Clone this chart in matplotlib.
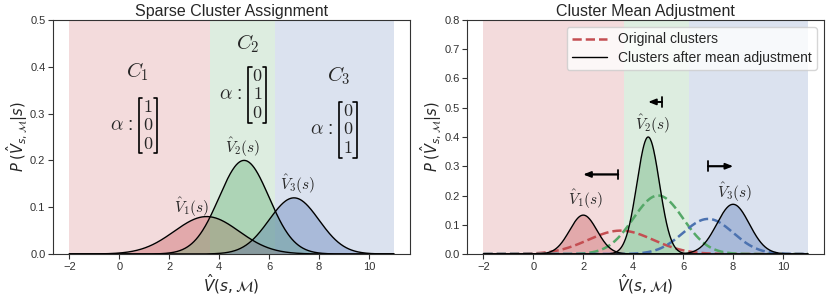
import numpy as np
import matplotlib.pyplot as plt
import seaborn as sns

sns.set_style("ticks")
plt.rcParams['font.family'] = ['Liberation Sans', 'DejaVu Sans']
plt.rcParams['axes.edgecolor'] = '#333333'
plt.rcParams['xtick.color'] = '#333333'
plt.rcParams['ytick.color'] = '#333333'

# cluster colours and boundaries
colores = ["#C44E52", "#55A868", "#4C72B0"]
limites = [-2.0, 3.65, 6.25, 11.0]

# original clusters: mean, std, peak height
medias = [3.5, 5.0, 7.0]
desvios = [1.3, 1.0, 1.0]
picos = [0.08, 0.20, 0.12]

# clusters after mean adjustment
medias_aj = [2.0, 4.6, 8.0]
desvios_aj = [0.55, 0.45, 0.65]
picos_aj = [0.133, 0.40, 0.17]

# start of the shift arrows and their heights
inicio_seta = [3.4, 5.15, 7.0]
alturas_seta = [0.272, 0.52, 0.30]

# vectors alpha for each cluster
alfas = [["1", "0", "0"], ["0", "1", "0"], ["0", "0", "1"]]

x = np.linspace(-2, 11, 600)


def curva(m, s, p):
    return p * np.exp(-0.5 * ((x - m) / s) ** 2)


def vetor(ax, xc, yc, digitos, h):
    # alpha : [ ... ] column vector
    ax.text(xc - 1.05, yc, r"$\alpha$ :", math_fontfamily="cm", fontsize=14,
            ha="center", va="center")
    passo = h / 3.0
    for i, d in enumerate(digitos):
        ax.text(xc, yc + passo * (1 - i), "$" + d + "$", math_fontfamily="cm",
                fontsize=13, ha="center", va="center")
    w = 0.36
    t = 0.13
    y0, y1 = yc - h / 2, yc + h / 2
    ax.plot([xc - w + t, xc - w, xc - w, xc - w + t], [y1, y1, y0, y0], color="k", lw=1.2)
    ax.plot([xc + w - t, xc + w, xc + w, xc + w - t], [y1, y1, y0, y0], color="k", lw=1.2)


fig, (ax1, ax2) = plt.subplots(1, 2, figsize=(8.3, 2.94), dpi=100)

for ax in (ax1, ax2):
    for i in range(3):
        ax.axvspan(limites[i], limites[i + 1], color=colores[i], alpha=0.2, lw=0)
    ax.set_xlim(-2.65, 11.65)
    ax.set_xlabel(r"$\hat{V}(s,\mathcal{M})$", fontsize=11, labelpad=0)
    ax.set_ylabel(r"$P\;(\hat{V}_{s,\mathcal{M}}|s)$", fontsize=10.5)
    ax.yaxis.set_label_coords(-0.065, 0.5)
    ax.tick_params(labelsize=8, length=3.5, pad=2)

# left panel
for i in range(3):
    y = curva(medias[i], desvios[i], picos[i])
    ax1.fill_between(x, y, color=colores[i], alpha=0.35, lw=0)
    ax1.plot(x, y, color="k", lw=1)
ax1.set_ylim(0, 0.5)
ax1.set_title("Sparse Cluster Assignment", fontsize=11.5, pad=3)

ax1.text(0.72, 0.39, "$C_1$", math_fontfamily="cm", fontsize=15, ha="center", va="center")
ax1.text(5.15, 0.45, "$C_2$", math_fontfamily="cm", fontsize=15, ha="center", va="center")
ax1.text(8.8, 0.38, "$C_3$", math_fontfamily="cm", fontsize=15, ha="center", va="center")
vetor(ax1, 1.15, 0.274, alfas[0], 0.118)
vetor(ax1, 5.53, 0.34, alfas[1], 0.12)
vetor(ax1, 9.15, 0.265, alfas[2], 0.118)

ax1.text(2.9, 0.10, r"$\hat{V}_1(s)$", math_fontfamily="cm", fontsize=11, ha="center", va="center")
ax1.text(4.96, 0.228, r"$\hat{V}_2(s)$", math_fontfamily="cm", fontsize=11, ha="center", va="center")
ax1.text(7.14, 0.149, r"$\hat{V}_3(s)$", math_fontfamily="cm", fontsize=11, ha="center", va="center")

# right panel
for i in range(3):
    y0 = curva(medias[i], desvios[i], picos[i])
    ax2.plot(x, y0, color=colores[i], lw=1.8, ls="--",
             label="Original clusters" if i == 0 else None)
for i in range(3):
    y = curva(medias_aj[i], desvios_aj[i], picos_aj[i])
    ax2.fill_between(x, y, color=colores[i], alpha=0.35, lw=0)
    ax2.plot(x, y, color="k", lw=1,
             label="Clusters after mean adjustment" if i == 0 else None)
ax2.set_ylim(0, 0.8)
ax2.set_title("Cluster Mean Adjustment", fontsize=11.5, pad=3)

for i in range(3):
    ax2.annotate("", xy=(medias_aj[i], alturas_seta[i]), xytext=(inicio_seta[i], alturas_seta[i]),
                 arrowprops=dict(arrowstyle="-|>,head_width=0.18,head_length=0.45",
                                 color="k", lw=1.3, shrinkA=0, shrinkB=0))
    ax2.annotate("", xy=(medias_aj[i], alturas_seta[i]), xytext=(inicio_seta[i], alturas_seta[i]),
                 arrowprops=dict(arrowstyle="|-|,widthA=0.35,widthB=0",
                                 color="k", lw=1.3, shrinkA=0, shrinkB=2))

ax2.text(2.08, 0.187, r"$\hat{V}_1(s)$", math_fontfamily="cm", fontsize=11, ha="center", va="center")
ax2.text(4.80, 0.443, r"$\hat{V}_2(s)$", math_fontfamily="cm", fontsize=11, ha="center", va="center")
ax2.text(8.08, 0.211, r"$\hat{V}_3(s)$", math_fontfamily="cm", fontsize=11, ha="center", va="center")

ax2.legend(loc="upper right", fontsize=10, frameon=True, handlelength=2.5,
           borderpad=0.4, labelspacing=0.3)

plt.subplots_adjust(left=0.064, right=0.993, top=0.932, bottom=0.136, wspace=0.16)
plt.savefig("out.png", dpi=100)
